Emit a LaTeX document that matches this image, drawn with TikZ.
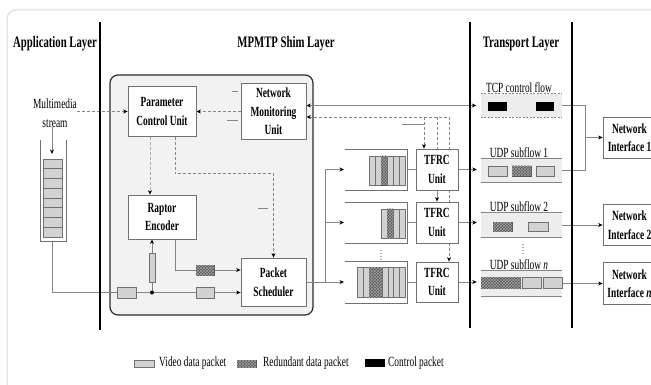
\documentclass[tikz,border=0pt]{standalone}
\usepackage{fontspec}
\setmainfont{Liberation Serif}[FakeStretch=0.67]
\usetikzlibrary{arrows.meta,patterns,calc}
\pgfdeclarelayer{back}
\pgfdeclarelayer{bg}
\pgfsetlayers{back,bg,main}
\definecolor{framec}{HTML}{DADADA}
\definecolor{shimfill}{HTML}{F2F2F2}
\definecolor{shimdraw}{HTML}{2B2B2B}
\definecolor{ln}{HTML}{858585}
\definecolor{lnl}{HTML}{ABABAB}
\definecolor{bx}{HTML}{707070}
\definecolor{vidc}{HTML}{D2D2D2}
\definecolor{rdc}{HTML}{555555}
\definecolor{patc}{HTML}{A5A5A5}
\definecolor{flowc}{HTML}{EDEDED}
\newcommand\fsz{\fontsize{14}{18.5}\selectfont}
\newcommand\tsz{\fontsize{16}{18}\selectfont}
\tikzset{
  title/.style={font=\bfseries\tsz, inner sep=0pt},
  txt/.style={font=\fsz, inner sep=0pt},
  unit/.style={draw=bx, line width=0.8pt, fill=white, font=\bfseries\fsz, align=center, inner sep=0pt},
  pk/.style={inner sep=0pt, line width=0.5pt},
  vpk/.style={pk, draw=bx, fill=vidc},
  rpk/.style={pk, draw=rdc, fill=rdc, postaction={pattern=crosshatch, pattern color=patc}},
  cpk/.style={pk, fill=black},
  flowbox/.style={fill=flowc, inner sep=0pt, minimum width=81pt},
  conn/.style={draw=ln, line width=0.8pt},
  arr/.style={conn, -{Stealth[length=4.5pt,width=4pt,black]}},
  dsh/.style={draw=ln, line width=0.8pt, dash pattern=on 3pt off 2pt},
  dsharr/.style={dsh, -{Stealth[length=4.5pt,width=4pt,black]}},
  qline/.style={draw=bx, line width=0.6pt},
  layerline/.style={line width=2.8pt, black},
  bit/.style={draw=ln, line width=0.7pt},
}
\begin{document}
\begin{tikzpicture}[x=1pt,y=-1pt]
\useasboundingbox (0,0) rectangle (651,385);

\begin{pgfonlayer}{back}
  \draw[framec, line width=1pt, rounded corners=9pt] (7,392) -- (7,10) -- (662,10);
  \draw[fill=shimfill, draw=shimdraw, line width=1.2pt, rounded corners=8pt] (110,75) rectangle (313,315);
\end{pgfonlayer}

% layer separators
\draw[layerline] (100,22) -- (100,330);
\draw[layerline] (470,22) -- (470,328);
\draw[layerline] (572,22) -- (572,328);

% titles
\node[title] (tapp) at (55,44) {Application Layer};
\node[title] (tshim) at (286,44) {MPMTP Shim Layer};
\node[title] (ttr) at (521,44) {Transport Layer};

% application layer
\node[txt, align=center] (mm) at (55,113) {Multimedia\\stream};
\coordinate (lqtop) at (52,154);
\coordinate (lqbot) at (52,241);
\draw[qline] (40,140) -- (40,241) -- (66,241) -- (66,140);
\foreach \k in {0,...,7}{
  \draw[pk, draw=bx, fill=vidc] (43,{159+\k*9.75}) rectangle (62,{159+(\k+1)*9.75});
}

% units
\node[unit, minimum width=68pt, minimum height=50pt] (pcu) at (162,111.5) {Parameter\\Control Unit};
\node[unit, minimum width=65pt, minimum height=56pt] (nmu) at (273.5,111.5) {Network\\Monitoring\\Unit};
\node[unit, minimum width=68pt, minimum height=44pt] (rap) at (162,217) {Raptor\\Encoder};
\node[unit, minimum width=65pt, minimum height=48pt] (ps) at (273.5,282) {Packet\\Scheduler};
\node[unit, minimum width=42pt, minimum height=41pt] (tf1) at (437,169.5) {TFRC\\Unit};
\node[unit, minimum width=42pt, minimum height=41pt] (tf2) at (437,222.5) {TFRC\\Unit};
\node[unit, minimum width=42pt, minimum height=40pt] (tfn) at (437,282) {TFRC\\Unit};
\node[unit, minimum width=53pt, minimum height=41pt] (ni1) at (629.5,137.5) {Network\\Interface 1};
\node[unit, minimum width=53pt, minimum height=41pt] (ni2) at (629.5,225) {Network\\Interface 2};
\node[unit, minimum width=53pt, minimum height=42pt] (nin) at (629.5,283.5) {Network\\Interface \textit{n}};

% shim packets
\coordinate (jn) at (152,292.5);
\node[vpk, minimum width=19pt, minimum height=11pt] (sp1) at (126.5,292.5) {};
\node[vpk, minimum width=18pt, minimum height=11pt] (sp2) at (205,292.5) {};
\node[rpk, minimum width=18pt, minimum height=10pt] (sr1) at (205,270) {};
\node[vpk, minimum width=6pt, minimum height=29pt] (sv) at (152,267.5) {};

% queues before TFRC units
\coordinate (q1l) at (344,169.5);
\coordinate (q2l) at (344,222.5);
\coordinate (qnl) at (344,282);
\coordinate (q1r) at (407,169.5);
\coordinate (q2r) at (407,222.5);
\coordinate (qnr) at (407,282);
\draw[qline] (345,149) -| (407,190) -- (345,190);
\draw[qline] (345,202) -| (407,243) -- (345,243);
\draw[qline] (345,261) -| (407,303) -- (345,303);
\foreach \a/\b/\t in {369/375/0,375/381/0,381/387/1,387/393/0,393/399/0,399/405/0}{
  \ifnum\t=1 \draw[rpk] (\a,156) rectangle (\b,185); \else \draw[vpk] (\a,156) rectangle (\b,185); \fi
}
\foreach \a/\b/\t in {381/387/0,387/393/1,393/399/0,399/405/0}{
  \ifnum\t=1 \draw[rpk] (\a,209) rectangle (\b,238); \else \draw[vpk] (\a,209) rectangle (\b,238); \fi
}
\foreach \a/\b/\t in {357/363/0,363/369/0,369/382/1,382/387.75/0,387.75/393.5/0,393.5/399.25/0,399.25/405/0}{
  \ifnum\t=1 \draw[rpk] (\a,267) rectangle (\b,297); \else \draw[vpk] (\a,267) rectangle (\b,297); \fi
}
\foreach \y in {250.5,253.5,256.5,259.5}{ \fill[rdc] (381,\y) circle[radius=0.6pt]; }

% transport flows
\node[flowbox, minimum height=23pt] (tcp) at (521.5,105.5) {};
\node[flowbox, minimum height=23pt] (udp1) at (521.5,170.5) {};
\node[flowbox, minimum height=24pt] (udp2) at (521.5,225) {};
\node[flowbox, minimum height=25pt] (udpn) at (521.5,283.5) {};
\draw[draw=ln, line width=0.9pt, dash pattern=on 2pt off 1.5pt] (tcp.north west) -- (tcp.north east) (tcp.south west) -- (tcp.south east);
\foreach \f in {udp1,udp2,udpn}{
  \draw[draw=ln, line width=0.9pt] (\f.north west) -- (\f.north east) (\f.south west) -- (\f.south east);
}
\node[txt, anchor=base] (ltcp) at (519,92.5) {TCP control flow};
\node[txt, anchor=base] (lu1) at (519,157.5) {UDP subflow 1};
\node[txt, anchor=base] (lu2) at (519,211.5) {UDP subflow 2};
\node[txt, anchor=base] (lun) at (519,269.5) {UDP subflow \textit{n}};
\foreach \y in {244.5,247.5,250.5,253.5}{ \fill[rdc] (523,\y) circle[radius=0.6pt]; }

\node[cpk, minimum width=19pt, minimum height=9pt] (c1) at (497.5,106.5) {};
\node[cpk, minimum width=18pt, minimum height=9pt] (c2) at (545,106.5) {};
\node[vpk, minimum width=19pt, minimum height=10pt] (u1a) at (497.5,171) {};
\node[rpk, minimum width=19pt, minimum height=10pt] (u1b) at (521.5,171) {};
\node[vpk, minimum width=18pt, minimum height=10pt] (u1c) at (545,171) {};
\node[rpk, minimum width=19pt, minimum height=9pt] (u2a) at (502.5,226.5) {};
\node[vpk, minimum width=20pt, minimum height=9pt] (u2b) at (538,226.5) {};
\node[rpk, minimum width=19.5pt, minimum height=11pt] (una) at (490.75,282.5) {};
\node[rpk, minimum width=19.5pt, minimum height=11pt] (unb) at (510.75,282.5) {};
\node[vpk, minimum width=19.5pt, minimum height=11pt] (unc) at (531.75,282.5) {};
\node[vpk, minimum width=19pt, minimum height=11pt] (und) at (552.5,282.5) {};

% connectors
\begin{pgfonlayer}{bg}
  \draw[dsharr] (mm.east |- pcu.west) -- (pcu.west);
  \draw[arr] ([xshift=-3pt]mm.south) -- (lqtop);
  \draw[dsharr] (nmu.west) -- (pcu.east);
  \draw[dsh, draw=lnl, -{Stealth[length=4.5pt,width=4pt,black]}] ([xshift=-12pt]pcu.south) -- ([xshift=-12pt]rap.north);
  \draw[dsharr] ([xshift=13pt]pcu.south) -- ++(0,37) -| (ps.north);
  \draw[arr] ([xshift=13pt]rap.south) |- ($(ps.west)+(0,-12)$);
  \draw[arr] (lqbot) |- ($(ps.west)+(0,10.5)$);
  \draw[arr] (jn) -- (jn |- rap.south);
  \fill[black] (jn) circle[radius=2pt];

  % NMU <-> transport
  \draw[conn, {Stealth[length=4.5pt,width=4pt,black]}-{Stealth[length=4.5pt,width=4pt,black]}, shorten >=4.5pt] (nmu.east |- tcp.west) -- (tcp.west);
  \coordinate (dk1) at (424,117);
  \coordinate (dk2) at (437,117);
  \draw[dsh, {Stealth[length=4.5pt,width=4pt,black]}-] ($(nmu.east)+(0,5.5)$) -| ([xshift=12pt]tf1.north);
  \draw[dsharr] (dk1) -- ([xshift=-13pt]tf1.north);
  \draw[dsh] (dk2) -- (tf1.north);
  \draw[arr] (tf1.south) -- (tf2.north);
  \draw[dsh] ([xshift=12pt]tf1.south) -- ([xshift=12pt]tf2.north);
  \draw[dsharr] ([xshift=12pt]tf2.south) -- ([xshift=12pt]tfn.north);

  % scheduler distribution
  \coordinate (br) at (325,282);
  \draw[arr] (ps.east) -- (qnl);
  \draw[conn] (br) -- (br |- q1l);
  \draw[arr] (br |- q1l) -- (q1l);
  \draw[arr] (br |- q2l) -- (q2l);
  \draw[conn] (q1r) -- (tf1.west);
  \draw[conn] (q2r) -- (tf2.west);
  \draw[conn] (qnr) -- (tfn.west);

  % TFRC -> transport
  \draw[arr, shorten >=4pt] (tf1.east) -- (tf1.east -| udp1.west);
  \draw[arr, shorten >=4pt] (tf2.east) -- (tf2.east -| udp2.west);
  \draw[arr, shorten >=4pt] (tfn.east) -- (tfn.east -| udpn.west);

  % transport -> interfaces
  \coordinate (j1) at (585,137.5);
  \draw[conn] (tcp.east) -| (j1);
  \draw[conn] (udp1.east) -| (j1);
  \draw[arr] (j1) -- (ni1.west);
  \draw[arr] (udp2.east) -- (udp2.east -| ni2.west);
  \draw[arr] (udpn.east) -- (udpn.east -| nin.west);

  % small stray marks
  \draw[bit] (232,91) -- (238,91);
  \draw[bit] (227,120) -- (238,120);
  \draw[bit] (258,208) -- (268,208);
  \draw[bit] (402,124) -- (424,124);
\end{pgfonlayer}

% legend
\node[vpk, minimum width=20pt, minimum height=7pt] (lg1) at (144,363.5) {};
\node[txt, anchor=west] (lt1) at (159,363.5) {Video data packet};
\node[rpk, minimum width=19pt, minimum height=7pt] (lg2) at (246.5,363.5) {};
\node[txt, anchor=west] (lt2) at (263,363.5) {Redundant data packet};
\node[cpk, minimum width=20pt, minimum height=8pt] (lg3) at (375,363) {};
\node[txt, anchor=west] (lt3) at (388,363.5) {Control packet};
\end{tikzpicture}
\end{document}
